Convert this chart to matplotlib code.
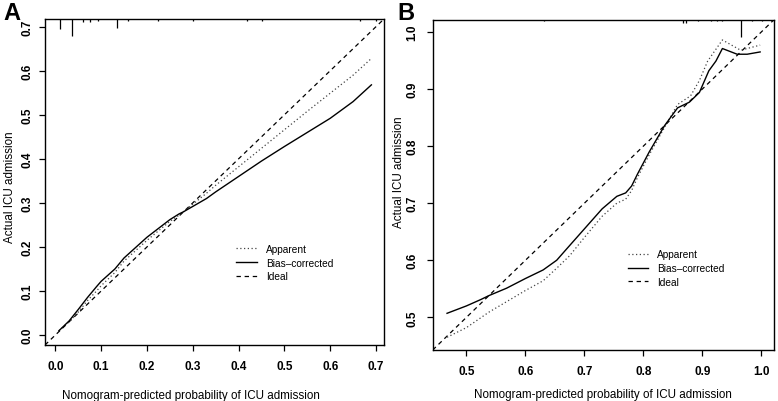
import matplotlib
matplotlib.use("Agg")
import matplotlib.pyplot as plt
from matplotlib.lines import Line2D

plt.rcParams['font.family'] = ['Liberation Sans', 'DejaVu Sans']

# ---------------- Panel A data ----------------
a_pred = [0.008, 0.02, 0.03, 0.05, 0.07, 0.09, 0.10, 0.13, 0.15, 0.20, 0.25, 0.27,
          0.28, 0.30, 0.33, 0.35, 0.40, 0.45, 0.50, 0.55, 0.60, 0.65, 0.69]
a_bias = [0.010, 0.022, 0.032, 0.058, 0.085, 0.110, 0.122, 0.150, 0.175, 0.222, 0.262, 0.275,
          0.280, 0.292, 0.310, 0.325, 0.360, 0.395, 0.428, 0.460, 0.492, 0.530, 0.568]
a_app = [0.010, 0.021, 0.030, 0.052, 0.078, 0.100, 0.112, 0.142, 0.168, 0.215, 0.258, 0.272,
         0.280, 0.297, 0.322, 0.340, 0.382, 0.424, 0.466, 0.508, 0.549, 0.590, 0.628]
a_rug_x = [0.0103, 0.0358, 0.060, 0.0764, 0.094, 0.135, 0.159, 0.224, 0.300, 0.418, 0.451, 0.665, 0.700]
a_rug_n = [6, 10, 2, 2, 1, 5, 1, 1, 1, 1, 1, 1, 1]
a_ticks = [0.0, 0.1, 0.2, 0.3, 0.4, 0.5, 0.6, 0.7]

# ---------------- Panel B data ----------------
b_pred = [0.467, 0.50, 0.524, 0.538, 0.568, 0.60, 0.63, 0.653, 0.67, 0.70, 0.73, 0.755,
          0.77, 0.78, 0.79, 0.81, 0.836, 0.858, 0.878, 0.895, 0.911, 0.923, 0.934, 0.959, 0.976, 0.998]
b_bias = [0.507, 0.520, 0.531, 0.538, 0.551, 0.568, 0.583, 0.600, 0.620, 0.655, 0.690, 0.712,
          0.718, 0.730, 0.751, 0.790, 0.836, 0.867, 0.877, 0.894, 0.932, 0.949, 0.971, 0.961, 0.961, 0.965]
b_app_pred = [0.467, 0.50, 0.538, 0.60, 0.63, 0.656, 0.675, 0.70, 0.73, 0.755, 0.77, 0.78, 0.79,
              0.81, 0.836, 0.858, 0.88, 0.895, 0.909, 0.934, 0.965, 0.998]
b_app = [0.465, 0.482, 0.509, 0.547, 0.564, 0.589, 0.608, 0.640, 0.677, 0.700, 0.707, 0.722, 0.745,
         0.785, 0.833, 0.873, 0.888, 0.915, 0.949, 0.986, 0.968, 0.977]
b_rug_x = [0.632, 0.867, 0.873, 0.892, 0.915, 0.925, 0.934, 0.966, 0.984, 1.001]
b_rug_n = [1, 2, 2, 1, 1, 1, 1, 10, 1, 1]
b_ticks = [0.5, 0.6, 0.7, 0.8, 0.9, 1.0]

legend_labels = ["Apparent", "Bias\u2013corrected", "Ideal"]
xlabel = "Nomogram-predicted probability of ICU admission"
ylabel = "Actual ICU admission"

W, H = 778, 402
fig = plt.figure(figsize=(W / 100, H / 100), dpi=100)


def ax_at(l, t, r, b):
    return fig.add_axes([l / W, 1 - b / H, (r - l) / W, (b - t) / H])


DOT = (0, (1, 2))
DASH = (0, (3.5, 3))


def panel(ax, pred, bias, app_pred, app, rug_x, rug_n, lim, ticks, axh_px, ypad):
    ax.plot(lim, lim, color='black', lw=0.9, linestyle=DASH)
    ax.plot(app_pred, app, color='#444444', lw=0.9, linestyle=DOT)
    ax.plot(pred, bias, color='black', lw=1.0)
    tr = ax.get_xaxis_transform()
    for x, n in zip(rug_x, rug_n):
        ax.plot([x, x], [1, 1 - n * 1.7 / axh_px], color='black', lw=0.9, transform=tr,
                solid_capstyle='butt')
    ax.set_xlim(lim)
    ax.set_ylim(lim)
    ax.set_xticks(ticks)
    ax.set_yticks(ticks)
    ax.set_xticklabels([f"{t:.1f}" for t in ticks], fontsize=8.5, fontweight='bold')
    ax.set_yticklabels([f"{t:.1f}" for t in ticks], fontsize=8.5, fontweight='bold',
                       rotation=90, va='center')
    ax.tick_params(direction='out', length=4.5, width=0.9)
    ax.tick_params(axis='x', pad=6)
    ax.tick_params(axis='y', pad=ypad)
    for s in ax.spines.values():
        s.set_linewidth(1.0)
    handles = [Line2D([], [], color='#444444', lw=0.9, linestyle=DOT),
               Line2D([], [], color='black', lw=1.0),
               Line2D([], [], color='black', lw=0.9, linestyle=DASH)]
    return handles


leg_kw = dict(loc='upper left', frameon=False, fontsize=7.3, handlelength=2.0,
              handletextpad=0.9, labelspacing=0.36, borderpad=0, borderaxespad=0)

# Panel A
axA = ax_at(45, 20, 384, 346)
hA = panel(axA, a_pred, a_bias, a_pred, a_app, a_rug_x, a_rug_n, (-0.0225, 0.7175), a_ticks, 326, 3.5)
fig.legend(hA, legend_labels, bbox_to_anchor=(236.5 / W, 1 - 245 / H), **leg_kw)

# Panel B
axB = ax_at(432.7, 20.7, 774, 351)
hB = panel(axB, b_pred, b_bias, b_app_pred, b_app, b_rug_x, b_rug_n, (0.4427, 1.0215), b_ticks, 330, 6)
fig.legend(hB, legend_labels, bbox_to_anchor=(628 / W, 1 - 250.5 / H), **leg_kw)

# Axis labels and panel letters
fig.text(191 / W, 1 - 396 / H, xlabel, ha='center', va='center', fontsize=8.4)
fig.text(603 / W, 1 - 395 / H, xlabel, ha='center', va='center', fontsize=8.4)
fig.text(10 / W, 1 - 187 / H, ylabel, ha='center', va='center', rotation=90, fontsize=8.4)
fig.text(399 / W, 1 - 172 / H, ylabel, ha='center', va='center', rotation=90, fontsize=8.4)
fig.text(3 / W, 1 - 13 / H, "A", ha='left', va='center', fontsize=17, fontweight='bold')
fig.text(397 / W, 1 - 13 / H, "B", ha='left', va='center', fontsize=17, fontweight='bold')

fig.savefig("out.png", dpi=100)
